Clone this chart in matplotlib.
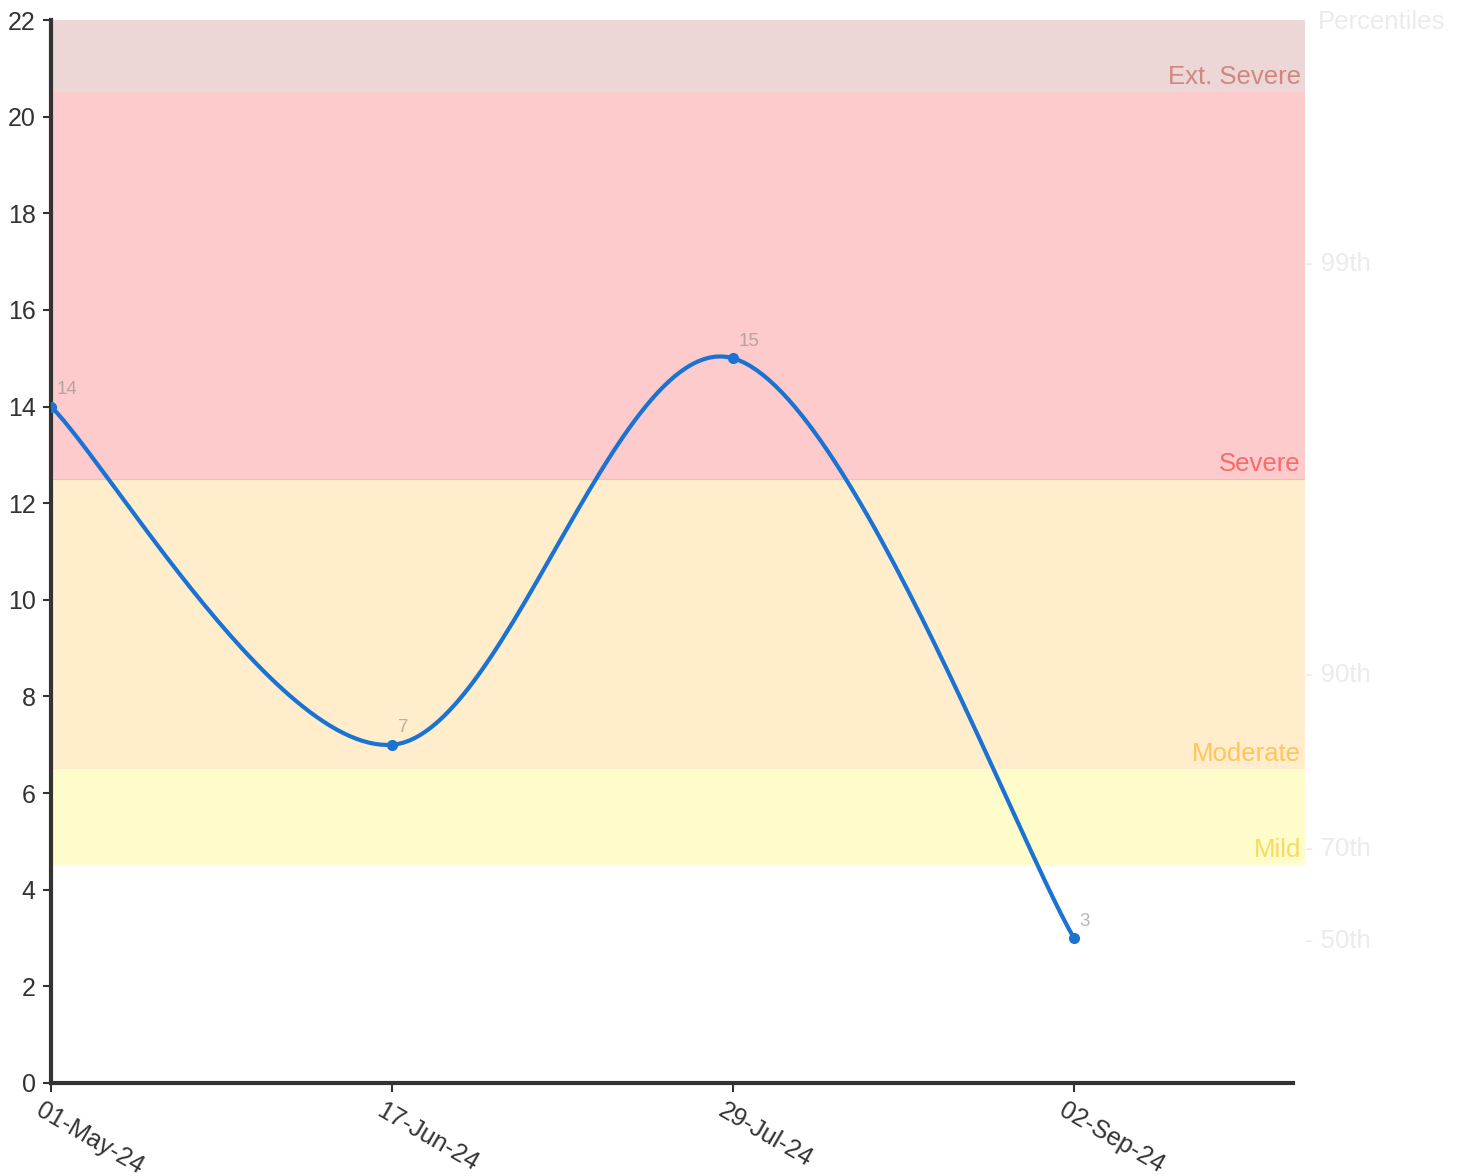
import numpy as np
import matplotlib
matplotlib.use("Agg")
from matplotlib import pyplot as plt
from matplotlib import transforms

plt.rcParams['font.family'] = ['Liberation Sans', 'DejaVu Sans']

# data
dates = ["01-May-24", "17-Jun-24", "29-Jul-24", "02-Sep-24"]
values = [14, 7, 15, 3]

band_names = ["Mild", "Moderate", "Severe", "Ext. Severe"]
band_low = [4.5, 6.5, 12.5, 20.5]
band_high = [6.5, 12.5, 20.5, 22]
band_fill = ["#fffccb", "#ffedcc", "#fdcbcb", "#ecd6d6"]
band_text = ["#f7da62", "#ffc55a", "#fb6a6a", "#d1877f"]

pct_labels = ["50th", "70th", "90th", "99th"]
pct_values = [3, 4.9, 8.5, 17]


def cardinal_curve(x, y, n=60):
    # catmull-rom style cubic bezier through the points (ends duplicated)
    x = np.asarray(x, float)
    y = np.asarray(y, float)
    k = 1 / 6
    px = np.concatenate([[x[0]], x, [x[-1]]])
    py = np.concatenate([[y[0]], y, [y[-1]]])
    xs, ys = [], []
    t = np.linspace(0, 1, n)
    for i in range(1, len(px) - 2):
        x0, x1, x2, x3 = px[i - 1], px[i], px[i + 1], px[i + 2]
        y0, y1, y2, y3 = py[i - 1], py[i], py[i + 1], py[i + 2]
        c1x, c1y = x1 + k * (x2 - x0), y1 + k * (y2 - y0)
        c2x, c2y = x2 + k * (x1 - x3), y2 + k * (y1 - y3)
        b0, b1, b2, b3 = (1 - t) ** 3, 3 * t * (1 - t) ** 2, 3 * t ** 2 * (1 - t), t ** 3
        xs.append(b0 * x1 + b1 * c1x + b2 * c2x + b3 * x2)
        ys.append(b0 * y1 + b1 * c1y + b2 * c2y + b3 * y2)
    return np.concatenate(xs), np.concatenate(ys)


fig = plt.figure(figsize=(14.67, 11.76), dpi=100)
W, H = 1467, 1176
ax = fig.add_axes([51 / W, 93 / H, (1305 - 51) / W, (1083 - 20) / H])

xpos = np.arange(len(dates))
px_per_unit = (1074 - 51) / 3
ax.set_xlim(0, (1305 - 51) / px_per_unit)
ax.set_ylim(0, 22)

ytrans = ax.get_yaxis_transform()
for name, lo, hi, fc, tc in zip(band_names, band_low, band_high, band_fill, band_text):
    ax.axhspan(lo, hi, color=fc, lw=0, zorder=0)
    ax.annotate(name, xy=(1.0, lo), xycoords=ytrans, xytext=(-3, 6),
                textcoords="offset points", ha="right", va="baseline",
                fontsize=18.5, color=tc, zorder=1)
ax.axhline(12.5, color="#f9bcb2", lw=0.8, zorder=0.5)

cx, cy = cardinal_curve(xpos, values)
ax.plot(cx, cy, color="#1a73d3", lw=3, zorder=3, solid_capstyle="round")
ax.plot(xpos, values, "o", color="#1a73d3", ms=7, zorder=4)
for xp, v in zip(xpos, values):
    ax.annotate(str(v), xy=(xp, v), xytext=(4, 6), textcoords="offset points",
                ha="left", va="bottom", fontsize=13.5, color="#888888", alpha=0.6, zorder=5)

ax.spines["top"].set_visible(False)
ax.spines["right"].set_visible(False)
for s in ["left", "bottom"]:
    ax.spines[s].set_linewidth(3)
    ax.spines[s].set_color("#333333")
ax.spines["bottom"].set_bounds(0, (1293 - 51) / px_per_unit)
ax.spines["left"].set_capstyle("projecting")

ax.set_yticks(np.arange(0, 23, 2))
ax.set_xticks(xpos)
ax.set_xticklabels(dates, rotation=-30, ha="left", va="top", rotation_mode="anchor")
ax.tick_params(axis="y", length=6, width=1.5, color="#333333", labelcolor="#333333",
               labelsize=18, pad=5)
ax.tick_params(axis="x", length=6.5, width=1.5, color="#333333", labelcolor="#333333",
               labelsize=18, pad=4.5)
shift = transforms.ScaledTranslation(-7 / 100, 0, fig.dpi_scale_trans)
for lbl in ax.get_xticklabels():
    lbl.set_transform(lbl.get_transform() + shift)

ax2 = ax.twinx()
ax2.set_ylim(0, 22)
ax2.set_yticks(pct_values)
ax2.set_yticklabels(["- " + p for p in pct_labels])
ax2.tick_params(axis="y", length=0, pad=0, labelsize=18.5, labelcolor="#ebebeb")
for s in ax2.spines.values():
    s.set_visible(False)
ax2.annotate("Percentiles", xy=(1.0, 1.0), xycoords="axes fraction", xytext=(9, -1.5),
             textcoords="offset points", ha="left", va="center", fontsize=18.5, color="#ebebeb")

fig.savefig("out.png", dpi=100)
